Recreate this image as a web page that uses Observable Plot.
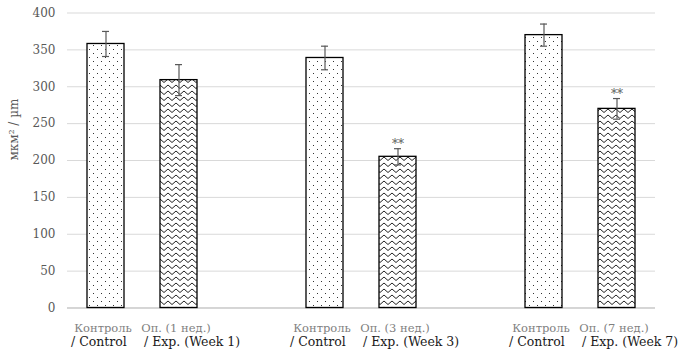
<!DOCTYPE html>
<html>
<head>
<meta charset="utf-8">
<script src="https://cdn.jsdelivr.net/npm/d3@7"></script>
<script src="https://cdn.jsdelivr.net/npm/@observablehq/plot@0.6"></script>
<style>
  html, body { margin: 0; padding: 0; background: #fff; }
  #chart { width: 689px; height: 359px; }
</style>
</head>
<body>
<div id="chart"></div>
<script>
// ---- data ----
const labelsRu = ["Контроль", "Оп. (1 нед.)", "Контроль", "Оп. (3 нед.)", "Контроль", "Оп. (7 нед.)"];
const labelsEn = ["/ Control", "/ Exp. (Week 1)", "/ Control", "/ Exp. (Week 3)", "/ Control", "/ Exp. (Week 7)"];
const groups = ["1", "1", "3", "3", "7", "7"];
const kinds = ["control", "exp", "control", "exp", "control", "exp"];
const means = [358, 309, 339, 205, 370, 270];
const errors = [17, 21, 16, 11, 15, 14];
const significance = ["", "", "", "**", "", "**"];
const yTicks = [0, 50, 100, 150, 200, 250, 300, 350, 400];
const yTitle = "мкм² / µm";

// ---- table ----
const rows = labelsRu.map((ru, i) => ({
  key: groups[i] + "-" + kinds[i],
  ru, en: labelsEn[i], group: groups[i], kind: kinds[i],
  mean: means[i], err: errors[i], sig: significance[i]
}));
const domain = [];
rows.forEach((r, i) => {
  domain.push(r.key);
  const next = rows[i + 1];
  if (next && next.group !== r.group) domain.push("gap-" + r.group);
});

const FONT = "'DejaVu Serif', serif";

const chart = Plot.plot({
  width: 689,
  height: 359,
  marginLeft: 67,
  marginRight: 34,
  marginTop: 12.5,
  marginBottom: 51.5,
  style: { fontFamily: FONT, fontSize: "12px", background: "#fff" },
  x: { type: "band", domain, paddingInner: 0.5, paddingOuter: 0.25, axis: null },
  y: { domain: [0, 400], axis: null },
  marks: [
    Plot.gridY(yTicks, { stroke: "#d9d9d9", strokeOpacity: 1, strokeWidth: 1 }),
    Plot.axisY(yTicks, { tickSize: 0, tickPadding: 12, fill: "#595959", fontSize: 12, label: null }),
    Plot.ruleY([0], { stroke: "#bfbfbf", strokeWidth: 1 }),
    Plot.barY(rows.filter(d => d.kind === "control"), {
      x: "key", y: "mean", fill: "url(#dotsPat)", stroke: "#000", strokeWidth: 1.3
    }),
    Plot.barY(rows.filter(d => d.kind === "exp"), {
      x: "key", y: "mean", fill: "url(#zigPat)", stroke: "#000", strokeWidth: 1.3
    }),
    Plot.ruleX(rows, {
      x: "key", y1: d => d.mean - d.err, y2: d => d.mean + d.err, stroke: "#595959", strokeWidth: 1.2
    }),
    Plot.tickY(rows, {
      x: "key", y: d => d.mean + d.err, stroke: "#595959", strokeWidth: 1.2, insetLeft: 15, insetRight: 15
    }),
    Plot.tickY(rows, {
      x: "key", y: d => d.mean - d.err, stroke: "#595959", strokeWidth: 1.2, insetLeft: 15, insetRight: 15
    }),
    Plot.text(rows.filter(d => d.sig), {
      x: "key", y: d => d.mean + d.err, text: "sig", lineAnchor: "bottom", dy: -1,
      fill: "#595959", fontSize: 12
    }),
    Plot.text(rows, {
      x: "key", y: () => 0, text: "ru", lineAnchor: "bottom", dy: 23.5, dx: -3,
      fill: "#7f7f7f", fontSize: 11.5
    }),
    Plot.text(rows, {
      x: "key", y: () => 0, text: "en", lineAnchor: "bottom", dy: 38, dx: -35, textAnchor: "start",
      fill: "#1a1a1a", fontSize: 12.5
    }),
    Plot.text([yTitle], {
      frameAnchor: "left", text: d => d, rotate: -90, dx: -53, fill: "#595959", fontSize: 12
    })
  ]
});

// patterns
const svg = d3.select(chart);
svg.selectAll("text").attr("font-family", FONT).style("font-family", FONT);
const defs = svg.insert("defs", ":first-child");
const dots = defs.append("pattern").attr("id", "dotsPat").attr("patternUnits", "userSpaceOnUse")
  .attr("width", 8).attr("height", 8);
dots.append("rect").attr("width", 8).attr("height", 8).attr("fill", "#fff");
dots.append("rect").attr("x", 1).attr("y", 1).attr("width", 1).attr("height", 1).attr("fill", "#333");
dots.append("rect").attr("x", 5).attr("y", 5).attr("width", 1).attr("height", 1).attr("fill", "#333");
const zig = defs.append("pattern").attr("id", "zigPat").attr("patternUnits", "userSpaceOnUse")
  .attr("width", 8).attr("height", 6);
zig.append("rect").attr("width", 8).attr("height", 6).attr("fill", "#fff");
zig.append("path").attr("d", "M-1,2 L0,1 L4,4.5 L8,1 L9,2")
  .attr("fill", "none").attr("stroke", "#222").attr("stroke-width", 1);

document.getElementById("chart").appendChild(chart);
</script>
</body>
</html>
